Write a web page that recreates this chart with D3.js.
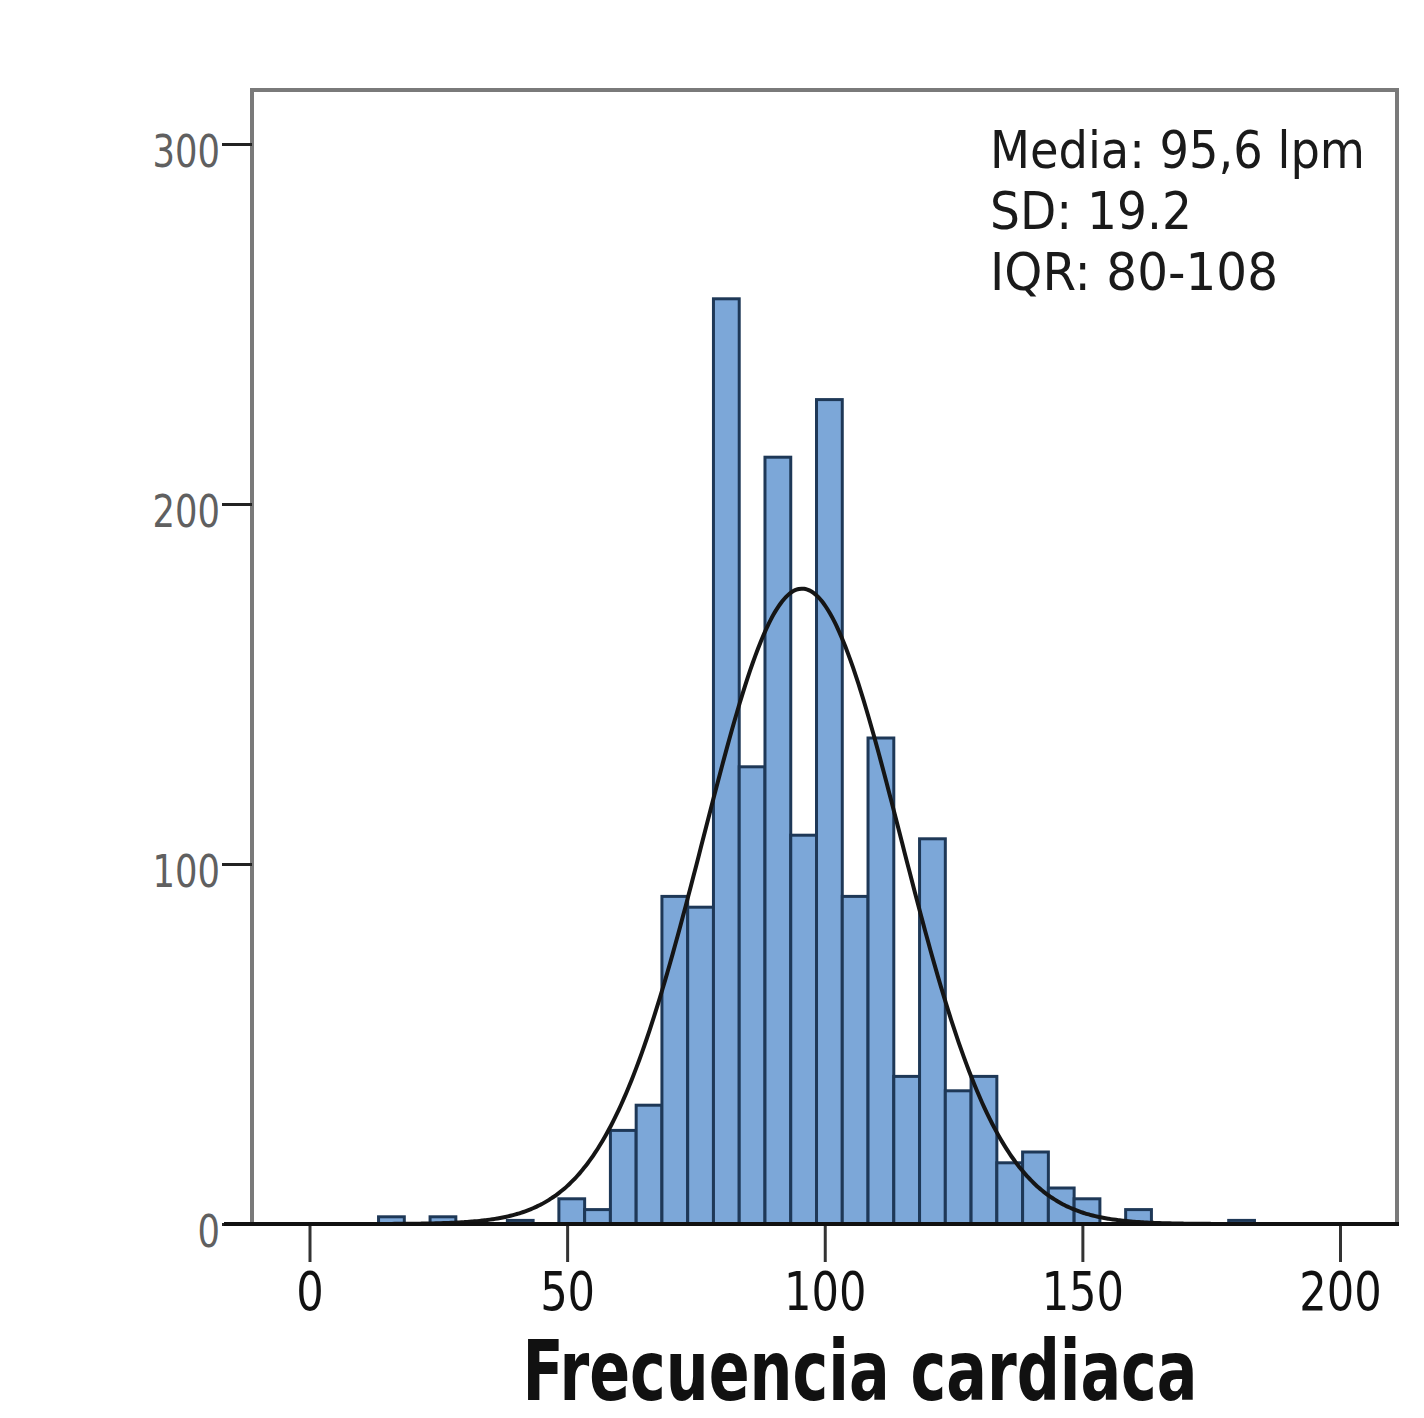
<!DOCTYPE html>
<html>
<head>
<meta charset="utf-8">
<script src="https://cdn.jsdelivr.net/npm/d3@7"></script>
<style>
  body { margin: 0; background: #fff; }
  svg { display: block; }
</style>
</head>
<body>
<svg id="chart"></svg>
<script>
const width = 1424;
const height = 1418;

// histogram bins (lower edge, bpm) and counts
const binStarts = [13.4, 23.4, 38.4, 48.4, 53.4, 58.4, 63.4, 68.4, 73.4, 78.4, 83.4, 88.4, 93.4,
  98.4, 103.4, 108.4, 113.4, 118.4, 123.4, 128.4, 133.4, 138.4, 143.4, 148.4, 158.4, 178.4];
const counts = [2, 2, 1, 7, 4, 26, 33, 91, 88, 257, 127, 213, 108,
  229, 91, 135, 41, 107, 37, 41, 17, 20, 10, 7, 4, 1];
const binWidth = 5;

const xTicks = [0, 50, 100, 150, 200];
const yTicks = [0, 100, 200, 300];
const statLines = ["Media: 95,6 lpm", "SD: 19.2", "IQR: 80-108"];
const mean = 95.6;
const sd = 19.2;

const frame = { left: 252, right: 1397, top: 90, bottom: 1224 };

const svg = d3.select("#chart")
  .attr("width", width)
  .attr("height", height);

const x = d3.scaleLinear().domain([0, 200]).range([309.5, 1340]);
const y = d3.scaleLinear().domain([0, 300]).range([1224, 144]);

const bins = binStarts.map((b, i) => ({ x0: b, x1: b + binWidth, n: counts[i] }));

svg.append("clipPath").attr("id", "clip")
  .append("rect")
  .attr("x", frame.left).attr("y", frame.top)
  .attr("width", frame.right - frame.left)
  .attr("height", frame.bottom - frame.top);

// bars
svg.append("g")
  .selectAll("rect")
  .data(bins)
  .join("rect")
  .attr("x", d => x(d.x0))
  .attr("y", d => y(d.n))
  .attr("width", d => x(d.x1) - x(d.x0))
  .attr("height", d => y(0) - y(d.n))
  .attr("fill", "#7ca7d8")
  .attr("stroke", "#1e3857")
  .attr("stroke-width", 3);

// normal curve from the stated mean and SD, scaled to the total count
const total = d3.sum(counts);
const curvePts = d3.range(0, 200.5, 0.5).map(v => [
  v,
  total * binWidth / (sd * Math.sqrt(2 * Math.PI)) * Math.exp(-0.5 * ((v - mean) / sd) ** 2)
]);

svg.append("path")
  .datum(curvePts)
  .attr("clip-path", "url(#clip)")
  .attr("fill", "none")
  .attr("stroke", "#151515")
  .attr("stroke-width", 4)
  .attr("d", d3.line().x(d => x(d[0])).y(d => y(d[1])).curve(d3.curveBasis));

// frame (top, left, right gray)
svg.append("path")
  .attr("d", `M${frame.left},${frame.bottom} V${frame.top} H${frame.right} V${frame.bottom}`)
  .attr("fill", "none")
  .attr("stroke", "#7a7a7a")
  .attr("stroke-width", 4);

// y axis
const yAxis = svg.append("g")
  .attr("transform", `translate(${frame.left},0)`)
  .call(d3.axisLeft(y).tickValues(yTicks).tickSize(30).tickPadding(2));
yAxis.select(".domain").remove();
yAxis.selectAll(".tick line").attr("stroke", "#222").attr("stroke-width", 3);
yAxis.selectAll(".tick text")
  .attr("font-family", "DejaVu Sans, Verdana, sans-serif")
  .attr("font-size", 44)
  .attr("fill", "#606060")
  .attr("dy", "0.5em")
  .attr("textLength", d => String(d).length * 22.5)
  .attr("lengthAdjust", "spacingAndGlyphs");

// x axis
const xAxis = svg.append("g")
  .attr("transform", `translate(0,${frame.bottom})`)
  .call(d3.axisBottom(x).tickValues(xTicks).tickSize(38).tickPadding(10));
xAxis.select(".domain").remove();
xAxis.selectAll(".tick line").attr("stroke", "#333").attr("stroke-width", 3);
xAxis.selectAll(".tick text")
  .attr("font-family", "DejaVu Sans Condensed, DejaVu Sans, sans-serif")
  .attr("font-size", 54)
  .attr("fill", "#111")
  .attr("textLength", d => String(d).length * 27.5)
  .attr("lengthAdjust", "spacingAndGlyphs");

// bottom axis line
svg.append("line")
  .attr("x1", 224).attr("x2", frame.right + 2)
  .attr("y1", frame.bottom).attr("y2", frame.bottom)
  .attr("stroke", "#111")
  .attr("stroke-width", 4);

// x title
svg.append("text")
  .attr("x", 860)
  .attr("y", 1400)
  .attr("text-anchor", "middle")
  .attr("font-family", "DejaVu Sans Condensed, DejaVu Sans, sans-serif")
  .attr("font-weight", "bold")
  .attr("font-size", 84)
  .attr("fill", "#111")
  .attr("textLength", 675)
  .attr("lengthAdjust", "spacingAndGlyphs")
  .text("Frecuencia cardiaca");

// stats box
const statWidths = [375, 202, 288];
svg.append("g")
  .selectAll("text")
  .data(statLines)
  .join("text")
  .attr("x", 990)
  .attr("y", (d, i) => 168 + i * 61)
  .attr("font-family", "DejaVu Sans, Tahoma, sans-serif")
  .attr("font-size", 52)
  .attr("fill", "#1a1a1a")
  .attr("textLength", (d, i) => statWidths[i])
  .attr("lengthAdjust", "spacingAndGlyphs")
  .text(d => d);
</script>
</body>
</html>
